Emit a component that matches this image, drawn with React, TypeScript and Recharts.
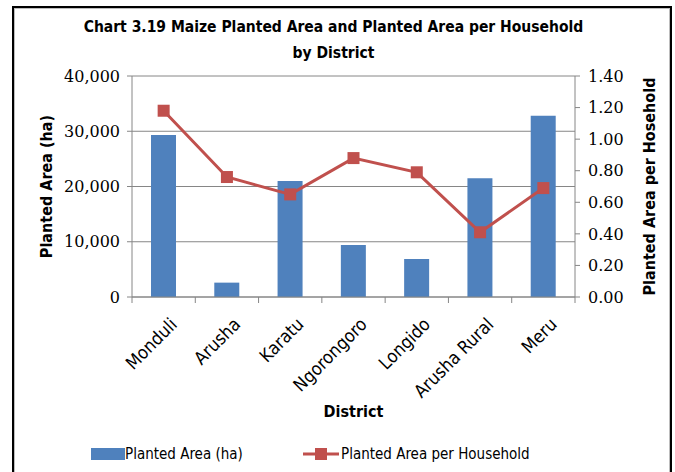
import { ComposedChart, Bar, Line, XAxis, YAxis, CartesianGrid, Legend, Label } from "recharts";

const districts = ["Monduli", "Arusha", "Karatu", "Ngorongoro", "Longido", "Arusha Rural", "Meru"];
const plantedArea = [29300, 2600, 21000, 9400, 6900, 21500, 32800];
const areaPerHousehold = [1.18, 0.76, 0.65, 0.88, 0.79, 0.41, 0.69];
const leftTicks = [0, 10000, 20000, 30000, 40000];
const rightTicks = [0, 0.2, 0.4, 0.6, 0.8, 1.0, 1.2, 1.4];

const data = districts.map((name, i) => ({
  name,
  area: plantedArea[i],
  perHH: areaPerHousehold[i],
}));

const SANS = '"Liberation Sans Narrow", "DejaVu Sans Condensed", "Open Sans", sans-serif';
const SERIF = '"DejaVu Serif", serif';
const BLUE = "#4F81BD";
const RED = "#C0504D";
const AXIS = "#868686";

const PLOT_LEFT = 132;
const PLOT_RIGHT = 575;
const BAND = (PLOT_RIGHT - PLOT_LEFT) / districts.length;

const CategoryTick = ({ x, y, payload, index }: any) => {
  const ax = x + 10;
  const ay = y + 16;
  return (
    <g>
      <line x1={x - BAND / 2} y1={y - 8} x2={x - BAND / 2} y2={y - 2} stroke={AXIS} />
      {index === districts.length - 1 && (
        <line x1={x + BAND / 2} y1={y - 8} x2={x + BAND / 2} y2={y - 2} stroke={AXIS} />
      )}
      <text
        x={ax}
        y={ay}
        textAnchor="end"
        transform={`rotate(-45 ${ax} ${ay})`}
        fontFamily={SANS}
        fontSize={18}
        fill="#000"
        dominantBaseline="central"
      >
        {payload.value}
      </text>
    </g>
  );
};

const SquareDot = ({ cx, cy }: any) => {
  if (cx == null || cy == null) return null;
  return <rect x={cx - 6} y={cy - 6} width={12} height={12} fill={RED} />;
};

const renderLegend = () => (
  <div
    style={{
      position: "relative",
      height: 24,
      fontFamily: SANS,
      fontSize: 15,
      color: "#000",
    }}
  >
    <div style={{ position: "absolute", left: 91, top: 2, display: "flex", alignItems: "center" }}>
      <div style={{ width: 34, height: 12, background: BLUE }} />
      <span>Planted Area (ha)</span>
    </div>
    <div style={{ position: "absolute", left: 303, top: 2, display: "flex", alignItems: "center" }}>
      <svg width={36} height={14}>
        <line x1={0} y1={7} x2={36} y2={7} stroke={RED} strokeWidth={3} />
        <rect x={12} y={1} width={12} height={12} fill={RED} />
      </svg>
      <span style={{ marginLeft: 2 }}>Planted Area per Household</span>
    </div>
  </div>
);

export default function App() {
  return (
    <div style={{ position: "relative", width: 675, height: 472, background: "#fff", overflow: "hidden" }}>
      <style>{`body{margin:0;overflow:hidden;background:#fff}`}</style>
      <div
        style={{
          position: "absolute",
          left: 12,
          top: 6,
          width: 656,
          height: 500,
          border: "2px solid #000",
          boxShadow: "inset 1px 1px 0 #bdbdbd, inset -1px 0 0 #bdbdbd",
        }}
      />
      <div
        style={{
          position: "absolute",
          left: 0,
          top: 14,
          width: 667,
          textAlign: "center",
          fontFamily: SANS,
          fontWeight: "bold",
          fontSize: 15.5,
          lineHeight: "26px",
          color: "#000",
        }}
      >
        Chart 3.19 Maize Planted Area and Planted Area per Household
        <br />
        by District
      </div>
      <ComposedChart
        width={675}
        height={472}
        data={data}
        margin={{ top: 76, right: 0, bottom: 3, left: 0 }}
        style={{ position: "absolute", left: 0, top: 0 }}
      >
        <CartesianGrid yAxisId="left" vertical={false} stroke={AXIS} strokeWidth={1} />
        <XAxis
          dataKey="name"
          height={146}
          tick={<CategoryTick />}
          tickLine={false}
          axisLine={{ stroke: AXIS }}
          interval={0}
        >
          <Label
            value="District"
            position="insideBottom"
            offset={26}
            style={{ fontFamily: SANS, fontWeight: "bold", fontSize: 16, fill: "#000" }}
          />
        </XAxis>
        <YAxis
          yAxisId="left"
          width={132}
          domain={[0, 40000]}
          ticks={leftTicks}
          tickFormatter={(v: number) => v.toLocaleString("en-US")}
          tick={{ fontFamily: SERIF, fontSize: 16, fill: "#000", dx: -5 }}
          tickLine={{ stroke: AXIS }}
          tickSize={5}
          axisLine={{ stroke: AXIS }}
        >
          <Label
            value="Planted Area (ha)"
            angle={-90}
            position="insideLeft"
            offset={46}
            style={{ fontFamily: SANS, fontWeight: "bold", fontSize: 16, fill: "#000", textAnchor: "middle" }}
          />
        </YAxis>
        <YAxis
          yAxisId="right"
          orientation="right"
          width={100}
          domain={[0, 1.4]}
          ticks={rightTicks}
          tickFormatter={(v: number) => v.toFixed(2)}
          tick={{ fontFamily: SERIF, fontSize: 16, fill: "#000", dx: 6 }}
          tickLine={{ stroke: AXIS }}
          tickSize={5}
          axisLine={{ stroke: AXIS }}
        >
          <Label
            value="Planted Area per Hosehold"
            angle={-90}
            position="insideRight"
            offset={26}
            style={{ fontFamily: SANS, fontWeight: "bold", fontSize: 16, fill: "#000", textAnchor: "middle" }}
          />
        </YAxis>
        <Bar yAxisId="left" dataKey="area" name="Planted Area (ha)" fill={BLUE} barSize={25} isAnimationActive={false} />
        <Line
          yAxisId="right"
          dataKey="perHH"
          name="Planted Area per Household"
          stroke={RED}
          strokeWidth={3}
          dot={<SquareDot />}
          activeDot={false}
          isAnimationActive={false}
        />
        <Legend verticalAlign="bottom" align="left" content={renderLegend} height={26} />
      </ComposedChart>
    </div>
  );
}
